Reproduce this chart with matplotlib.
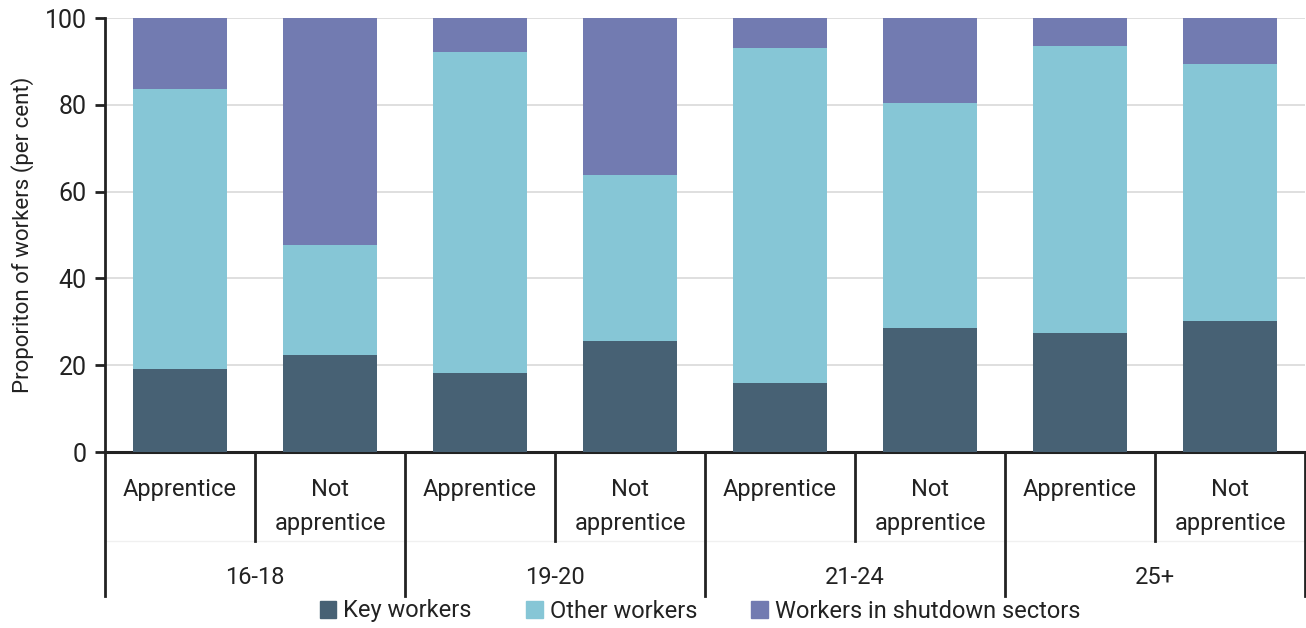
import matplotlib
matplotlib.use("Agg")
import matplotlib.pyplot as plt
from matplotlib.transforms import blended_transform_factory
from matplotlib.patches import Patch
import numpy as np

plt.rcParams['font.family'] = ['Roboto', 'DejaVu Sans']

groups = ["16-18", "19-20", "21-24", "25+"]
subcats = ["Apprentice", "Not\napprentice"]
key_workers = [19.1, 22.3, 18.3, 25.5, 16.0, 28.5, 27.4, 30.2]
other_workers = [64.5, 25.3, 73.9, 38.4, 77.2, 51.9, 66.1, 59.2]
shutdown_workers = [16.4, 52.4, 7.8, 36.1, 6.8, 19.6, 6.5, 10.6]

c_key = "#476174"
c_other = "#86C6D6"
c_shut = "#727BB1"
txt = "#222222"

W, H = 1306, 628
fig = plt.figure(figsize=(W / 100, H / 100), dpi=100)
ax = fig.add_axes([105 / W, 1 - 452 / H, 1200 / W, 434 / H])

x = np.arange(len(key_workers))
bw = 0.627
k = np.array(key_workers)
o = np.array(other_workers)
s = np.array(shutdown_workers)
ax.bar(x, k, bw, color=c_key, zorder=3)
ax.bar(x, o, bw, bottom=k, color=c_other, zorder=3)
ax.bar(x, s, bw, bottom=k + o, color=c_shut, zorder=3)

ax.set_xlim(-0.5, len(x) - 0.5)
ax.set_ylim(0, 100)
ax.set_yticks([0, 20, 40, 60, 80, 100])
ax.yaxis.grid(True, color="#d9d9d9", linewidth=1.2, zorder=0)
ax.set_axisbelow(True)
ax.tick_params(axis='y', labelsize=18, length=7, width=2, color=txt, labelcolor=txt, pad=6)
ax.set_xticks([])
for sp in ["top", "right"]:
    ax.spines[sp].set_visible(False)
ax.spines["left"].set_linewidth(2)
ax.spines["left"].set_color(txt)
ax.spines["bottom"].set_linewidth(2.2)
ax.spines["bottom"].set_color(txt)
ax.set_ylabel("Proporiton of workers (per cent)", fontsize=16, color=txt, labelpad=8)

tr = blended_transform_factory(ax.transData, fig.transFigure)
def fy(py):
    return 1 - py / H

# faint line between the two label rows
ax.plot([-0.5, len(x) - 0.5], [fy(541), fy(541)], transform=tr, color="#f0f0f0", lw=1, clip_on=False, zorder=1)

# separators
for i in range(len(x) + 1):
    xs = i - 0.5
    if i % 2 == 0:
        ax.plot([xs, xs], [fy(452), fy(596)], transform=tr, color=txt, lw=2, clip_on=False)
    else:
        ax.plot([xs, xs], [fy(452), fy(541)], transform=tr, color=txt, lw=2, clip_on=False)

for i in range(len(x)):
    lab = subcats[i % 2]
    ax.text(i, fy(478), lab, transform=tr, ha="center", va="top", fontsize=17,
            color=txt, linespacing=1.6)
for g, name in enumerate(groups):
    ax.text(2 * g + 0.5, fy(578), name, transform=tr, ha="center", va="center",
            fontsize=17, color=txt)

handles = [Patch(color=c_key), Patch(color=c_other), Patch(color=c_shut)]
labels = ["Key workers", "Other workers", "Workers in shutdown sectors"]
fig.legend(handles, labels, loc="center", bbox_to_anchor=(700 / W, 1 - 611 / H), ncol=3,
           frameon=False, fontsize=17, handlelength=0.7, handleheight=0.7,
           handletextpad=0.3, columnspacing=2.3, labelcolor=txt)

fig.savefig("out.png", dpi=100)
